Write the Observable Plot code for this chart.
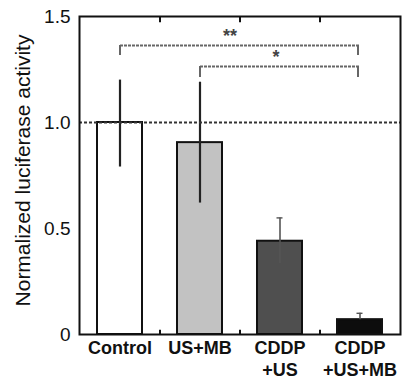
<!DOCTYPE html>
<html><head><meta charset="utf-8">
<script src="https://cdn.jsdelivr.net/npm/d3@7"></script>
<script src="https://cdn.jsdelivr.net/npm/@observablehq/plot@0.6"></script>
<style>body{margin:0;background:#fff}</style>
</head><body><div id="chart"></div>
<script>
const categories = ["Control", "US+MB", "CDDP\n+US", "CDDP\n+US+MB"];
const means = [1.0, 0.905, 0.44, 0.07];
const errLow = [0.79, 0.62, 0.335, 0.07];
const errHigh = [1.2, 1.19, 0.55, 0.10];
const fills = ["#ffffff", "#c2c2c2", "#4f4f4f", "#0d0d0d"];
const yTicks = [0, 0.5, 1.0, 1.5];
const reference = [1.0];
const compFrom = ["Control", "US+MB"];
const compTo = ["CDDP\n+US+MB", "CDDP\n+US+MB"];
const compY = [1.363, 1.264];
const compDrop = [1.316, 1.212];
const compLabel = ["**", "*"];

const bars = categories.map((c, i) => ({cat: c, mean: means[i], lo: errLow[i], hi: errHigh[i], fill: fills[i], i}));
const comps = compFrom.map((f, i) => ({from: f, to: compTo[i], y: compY[i], drop: compDrop[i], label: compLabel[i]}));
const font = "'Liberation Sans', Arial, Helvetica, sans-serif";

const chart = Plot.plot({
  width: 404,
  height: 385,
  marginLeft: 79,
  marginRight: 4,
  marginTop: 16,
  marginBottom: 51,
  style: {fontFamily: font, background: "#fff", color: "#111"},
  x: {domain: categories, paddingInner: 0.44, paddingOuter: 0.22, label: null},
  y: {domain: [0, 1.5], label: null},
  marks: [
    Plot.barY(bars, {x: "cat", y: "mean", fill: "fill", stroke: "#111", strokeWidth: 2}),
    Plot.ruleX(bars, {x: "cat", y1: "lo", y2: "hi", stroke: d => d.i < 2 ? "#222" : "#555", strokeWidth: d => d.i < 2 ? 2.2 : 1.6}),
    Plot.tickY(bars.filter(d => d.i >= 2), {x: "cat", y: "hi", stroke: "#555", strokeWidth: 1.4, insetLeft: 19.5, insetRight: 19.5}),
    Plot.ruleY(reference, {stroke: "#333", strokeWidth: 2, strokeDasharray: "3,2"}),
    Plot.link(comps, {x1: "from", x2: "to", y1: "y", y2: "y", stroke: "#666", strokeWidth: 2, strokeDasharray: "3,1"}),
    Plot.ruleX(comps, {x: "from", y1: "drop", y2: "y", stroke: "#666", strokeWidth: 2}),
    Plot.ruleX(comps, {x: "to", y1: "drop", y2: "y", stroke: "#666", strokeWidth: 2, dx: -2}),
    Plot.text(comps.slice(0, 1), {x: () => "US+MB", y: "y", text: "label", dx: 30, dy: -9, fontSize: 18, fontWeight: "bold", fill: "#444"}),
    Plot.text(comps.slice(1), {x: () => "CDDP\n+US", y: "y", text: "label", dx: -4, dy: -9, fontSize: 18, fontWeight: "bold", fill: "#444"}),
    Plot.ruleX(categories.slice(0, 3), {x: d => d, dx: 40, y1: 0, y2: 0.02, stroke: "#111", strokeWidth: 2}),
    Plot.ruleX(categories.slice(0, 3), {x: d => d, dx: 40, y1: 1.5, y2: 1.47, stroke: "#111", strokeWidth: 2}),
    Plot.axisY({ticks: yTicks, tickFormat: d => d === 0 ? "0" : d.toFixed(1), tickSize: 0, tickPadding: 9, fontSize: 19, fill: "#111", label: null}),
    Plot.axisX({tickSize: 0, tickPadding: 5, fontSize: 18, fontWeight: "bold", fill: "#111", lineHeight: 1.17, label: null}),
    Plot.text(["Normalized luciferase activity"], {frameAnchor: "left", textAnchor: "middle", rotate: -90, dx: -56, dy: -5, fontSize: 21, fill: "#111"}),
    Plot.frame({stroke: "#111", strokeWidth: 2})
  ]
});
document.getElementById("chart").append(chart);
</script>
</body></html>
